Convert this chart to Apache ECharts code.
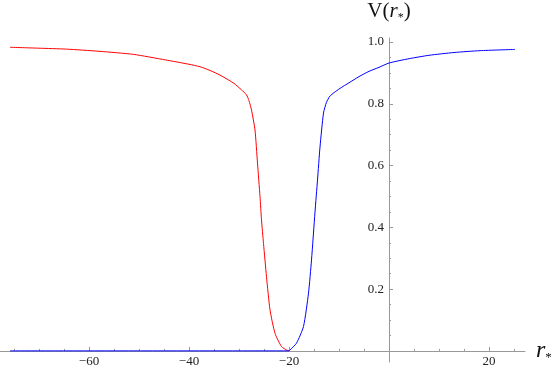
<!DOCTYPE html>
<html>
<head>
<meta charset="utf-8">
<script src="https://cdn.jsdelivr.net/npm/echarts@6/dist/echarts.min.js"></script>
<style>
  html, body { margin: 0; padding: 0; background: #fff; }
  #chart { width: 556px; height: 372px; }
</style>
</head>
<body>
<div id="chart"></div>
<script>
// red branch (left of the dip)
const rRed = [-75.8, -70, -64.5, -58, -51.1, -44.7, -40, -37.8, -35.8, -33.8, -31, -29.5, -28.5, -28, -27.5,
  -26.8, -26.3, -25.8, -25.5, -25.1, -24.5, -23.8, -22.8, -21.5, -20.4, -20]
const vRed = [0.983, 0.980, 0.977, 0.970, 0.960, 0.942, 0.928, 0.920, 0.908, 0.893, 0.866, 0.845, 0.829, 0.81, 0.78,
  0.715, 0.608, 0.50, 0.424, 0.348, 0.24, 0.133, 0.057, 0.014, 0.002, 0]

// blue branch (flat at zero, then rising to the right)
const rBlue = [-75.8, -20, -19.8, -18.5, -17.1, -16.1, -15.5, -14.8, -14.3, -13.8, -13.1, -12.5, -11.8,
  -11, -9.8, -8, -6, -4, -2, 0, 4, 8, 13, 18.2, 25.2]
const vBlue = [0, 0, 0.003, 0.025, 0.079, 0.187, 0.294, 0.45, 0.553, 0.66, 0.77, 0.805, 0.825,
  0.836, 0.85, 0.868, 0.888, 0.905, 0.918, 0.932, 0.946, 0.957, 0.966, 0.972, 0.976]

const xTickLabels = [-60, -40, -20, 20]
const xTicks = [-60, -40, -20, 0, 20]
const yTickLabels = [0.2, 0.4, 0.6, 0.8, 1.0]

const serif = '"Liberation Serif", "DejaVu Serif", serif'

const xMin = -77.8
const xMax = 27.2
const yMin = -0.036
const yMax = 1.013
const gridLeft = 0
const gridRight = 31
const gridTop = 38
const gridBottom = 10
const plotWidth = 556 - gridLeft - gridRight
const plotHeight = 372 - gridTop - gridBottom
// axes cross at (0, 0): shift each axis in from the grid edge
const yAxisShift = plotWidth * (0 - xMin) / (xMax - xMin)
const xAxisShift = plotHeight * (0 - yMin) / (yMax - yMin)

const chart = echarts.init(document.getElementById('chart'))

chart.setOption({
  animation: false,
  grid: { left: gridLeft, right: gridRight, top: gridTop, bottom: gridBottom, containLabel: false, outerBoundsMode: 'none' },
  xAxis: {
    type: 'value',
    min: xMin,
    max: xMax,
    position: 'bottom',
    offset: -xAxisShift,
    splitLine: { show: false },
    axisLine: { onZero: false, lineStyle: { color: '#999', width: 1 } },
    axisTick: { inside: true, length: 4, customValues: xTicks, lineStyle: { color: '#999' } },
    minorTick: { show: true, splitNumber: 4, length: 2, lineStyle: { color: '#999' } },
    axisLabel: {
      customValues: xTickLabels,
      margin: 4,
      color: '#222',
      fontFamily: serif,
      fontSize: 13,
      formatter: v => (v < 0 ? '\u2212' + Math.abs(v) : String(v))
    },
    name: '{r|r}{s|*}',
    nameLocation: 'end',
    nameGap: 11,
    nameTextStyle: {
      rich: {
        r: { fontFamily: serif, fontStyle: 'italic', fontSize: 24, color: '#111', lineHeight: 26 },
        s: { fontFamily: serif, fontSize: 13, color: '#111', lineHeight: 13, padding: [14, 0, 0, 0] }
      }
    }
  },
  yAxis: {
    type: 'value',
    min: yMin,
    max: yMax,
    position: 'left',
    offset: -yAxisShift,
    splitLine: { show: false },
    axisLine: { onZero: false, lineStyle: { color: '#999', width: 1 } },
    axisTick: { inside: true, length: 4, customValues: yTickLabels, lineStyle: { color: '#999' } },
    minorTick: { show: true, splitNumber: 4, length: 2, lineStyle: { color: '#999' } },
    axisLabel: {
      customValues: yTickLabels,
      margin: 5,
      color: '#222',
      fontFamily: serif,
      fontSize: 13,
      formatter: v => v.toFixed(1)
    },
    name: '{t|V(}{r|r}{s|*}{t|)}',
    nameLocation: 'end',
    nameGap: 15,
    nameTextStyle: {
      rich: {
        t: { fontFamily: serif, fontSize: 21, color: '#111', lineHeight: 24 },
        r: { fontFamily: serif, fontStyle: 'italic', fontSize: 21, color: '#111', lineHeight: 24 },
        s: { fontFamily: serif, fontSize: 12, color: '#111', lineHeight: 12, padding: [13, 0, 0, 0] }
      }
    }
  },
  series: [
    {
      type: 'line',
      data: rRed.map((r, i) => [r, vRed[i]]),
      showSymbol: false,
      smooth: 0.2,
      lineStyle: { color: '#ff0000', width: 1 }
    },
    {
      type: 'line',
      data: rBlue.map((r, i) => [r, vBlue[i]]),
      showSymbol: false,
      smooth: 0.2,
      lineStyle: { color: '#0000ff', width: 1 }
    }
  ]
})
</script>
</body>
</html>
